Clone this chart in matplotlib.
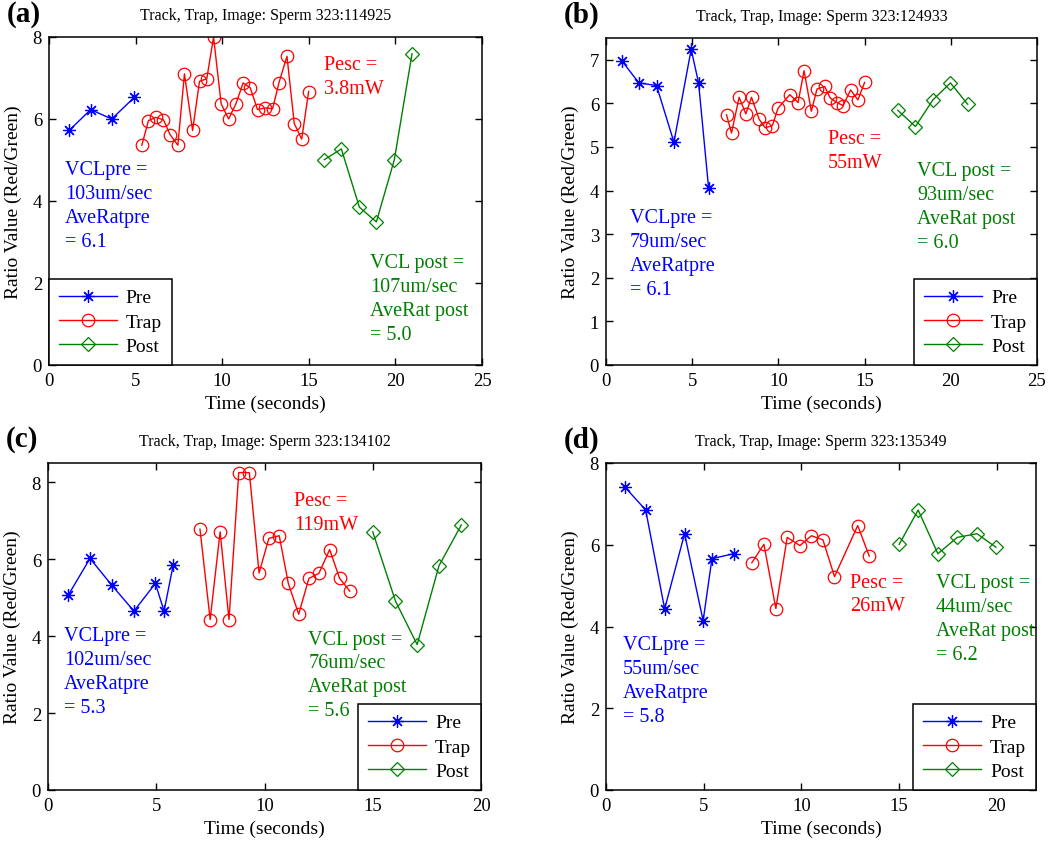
import matplotlib
matplotlib.use("Agg")
import matplotlib.pyplot as plt

plt.rcParams['font.family'] = ['Liberation Serif', 'DejaVu Serif']

BLUE = (0, 0, 1)
RED = (1, 0, 0)
GREEN = (0, 0.5, 0)

##################
# Panel (a) data #
##################
a_pre_t = [1.16, 2.41, 3.62, 4.93]
a_pre_r = [5.72, 6.23, 6.00, 6.53]
a_trap_t = [5.36, 5.74, 6.17, 6.61, 6.99, 7.44, 7.82, 8.29, 8.69, 9.11, 9.50, 9.94,
            10.37, 10.79, 11.21, 11.62, 12.04, 12.49, 12.91, 13.28, 13.74, 14.16, 14.59, 14.99]
a_trap_r = [5.36, 5.96, 6.04, 5.98, 5.62, 5.36, 7.10, 5.72, 6.92, 6.98, 8.00, 6.37,
            6.00, 6.37, 6.88, 6.76, 6.23, 6.27, 6.25, 6.89, 7.53, 5.89, 5.51, 6.67]
a_post_t = [15.90, 16.88, 17.92, 18.90, 19.94, 20.96]
a_post_r = [5.01, 5.27, 3.85, 3.49, 5.01, 7.59]

##################
# Panel (b) data #
##################
b_pre_t = [0.91, 1.91, 2.93, 3.94, 4.94, 5.37, 5.95]
b_pre_r = [6.98, 6.47, 6.41, 5.11, 7.24, 6.47, 4.06]
b_trap_t = [6.99, 7.28, 7.72, 8.11, 8.44, 8.88, 9.23, 9.65, 9.98, 10.66, 11.14,
            11.49, 11.91, 12.24, 12.68, 13.01, 13.40, 13.75, 14.19, 14.61, 15.00]
b_trap_r = [5.74, 5.32, 6.14, 5.76, 6.14, 5.64, 5.44, 5.49, 5.89, 6.20, 6.02,
            6.75, 5.82, 6.33, 6.39, 6.12, 6.02, 5.95, 6.31, 6.08, 6.48]
b_post_t = [16.93, 17.95, 18.96, 19.98, 20.98]
b_post_r = [5.84, 5.47, 6.08, 6.47, 5.98]

##################
# Panel (c) data #
##################
c_pre_t = [0.93, 1.94, 2.95, 3.97, 4.96, 5.36, 5.78]
c_pre_r = [5.06, 6.02, 5.32, 4.65, 5.37, 4.65, 5.84]
c_trap_t = [7.02, 7.49, 7.95, 8.36, 8.81, 9.30, 9.75, 10.20, 10.68, 11.10,
            11.58, 12.05, 12.51, 13.01, 13.47, 13.94]
c_trap_r = [6.78, 4.43, 6.71, 4.43, 8.25, 8.25, 5.64, 6.54, 6.61, 5.37,
            4.57, 5.50, 5.63, 6.25, 5.50, 5.17]
c_post_t = [15.00, 16.05, 17.05, 18.06, 19.09]
c_post_r = [6.71, 4.91, 3.78, 5.83, 6.89]

##################
# Panel (d) data #
##################
d_pre_t = [0.97, 2.03, 3.00, 4.02, 4.97, 5.42, 6.53]
d_pre_r = [7.41, 6.85, 4.43, 6.27, 4.14, 5.66, 5.78]
d_trap_t = [7.46, 8.08, 8.69, 9.27, 9.92, 10.51, 11.10, 11.69, 12.88, 13.47]
d_trap_r = [5.56, 6.01, 4.44, 6.18, 5.98, 6.22, 6.12, 5.22, 6.47, 5.72]
d_post_t = [15.00, 15.97, 16.98, 17.97, 18.98, 19.95]
d_post_r = [6.01, 6.85, 5.78, 6.18, 6.27, 5.94]

titles = ['Track, Trap, Image: Sperm 323:114925', 'Track, Trap, Image: Sperm 323:124933',
          'Track, Trap, Image: Sperm 323:134102', 'Track, Trap, Image: Sperm 323:135349']
letters = ['(a)', '(b)', '(c)', '(d)']
pre_notes = ['VCLpre =\n103um/sec\nAveRatpre\n= 6.1', 'VCLpre =\n79um/sec\nAveRatpre\n= 6.1',
             'VCLpre =\n102um/sec\nAveRatpre\n= 5.3', 'VCLpre =\n55um/sec\nAveRatpre\n= 5.8']
pesc_notes = ['Pesc =\n3.8mW', 'Pesc =\n55mW', 'Pesc =\n119mW', 'Pesc =\n26mW']
post_notes = ['VCL post =\n107um/sec\nAveRat post\n= 5.0', 'VCL post =\n93um/sec\nAveRat post\n= 6.0',
              'VCL post =\n76um/sec\nAveRat post\n= 5.6', 'VCL post =\n44um/sec\nAveRat post\n= 6.2']

# note anchor points (data coords, top-left of text)
pre_xy = [(0.92, 5.0), (1.39, 3.6), (0.74, 4.26), (0.85, 3.79)]
pesc_xy = [(15.9, 7.57), (12.88, 5.41), (11.36, 7.76), (12.49, 5.32)]
post_xy = [(18.55, 2.73), (18.05, 4.67), (12.03, 4.17), (16.86, 5.30)]

xlims = [25, 25, 20, 22]
ylims = [8, 7.5, 8.5, 8]
yticks = [[0, 2, 4, 6, 8], [0, 1, 2, 3, 4, 5, 6, 7], [0, 2, 4, 6, 8], [0, 2, 4, 6, 8]]
leg_loc = ['lower left', 'lower right', 'lower right', 'lower right']

data = [
    (a_pre_t, a_pre_r, a_trap_t, a_trap_r, a_post_t, a_post_r),
    (b_pre_t, b_pre_r, b_trap_t, b_trap_r, b_post_t, b_post_r),
    (c_pre_t, c_pre_r, c_trap_t, c_trap_r, c_post_t, c_post_r),
    (d_pre_t, d_pre_r, d_trap_t, d_trap_r, d_post_t, d_post_r),
]

# axes boxes in pixels: left, top, right, bottom
boxes = [(49, 38, 482, 366), (606, 39, 1037, 366), (48, 464, 481, 791), (606, 464, 1036, 791)]
W, H = 1050, 845

fig = plt.figure(figsize=(10.5, 8.45), dpi=100)

for i in range(4):
    l, t, r, b = boxes[i]
    ax = fig.add_axes([l / W, (H - b) / H, (r - l) / W, (b - t) / H])
    pt, pr, tt, tr, qt, qr = data[i]
    ax.plot(pt, pr, color=BLUE, lw=1, marker=(8, 2, 0), ms=9, mew=0.9, label='Pre')
    ax.plot(tt, tr, color=RED, lw=1, marker='o', ms=9, mfc='none', mew=0.9, label='Trap')
    ax.plot(qt, qr, color=GREEN, lw=1, marker='D', ms=7.5, mfc='none', mew=0.9, label='Post')

    ax.set_xlim(0, xlims[i])
    ax.set_ylim(0, ylims[i])
    ax.set_xticks(range(0, xlims[i] + 1, 5))
    ax.set_yticks(yticks[i])
    ax.tick_params(direction='in', top=True, right=True, length=5, width=1, labelsize=13.5, pad=5)
    for s in ax.spines.values():
        s.set_linewidth(1.1)

    ax.set_xlabel('Time (seconds)', fontsize=14, labelpad=4)
    ax.set_ylabel('Ratio Value (Red/Green)', fontsize=14, labelpad=8)
    ax.set_title(titles[i], fontsize=11.5, pad=13)

    fs = 14.5
    ax.text(*pre_xy[i], pre_notes[i], color=BLUE, fontsize=fs, va='top', ha='left', linespacing=1.35)
    ax.text(*pesc_xy[i], pesc_notes[i], color=RED, fontsize=fs, va='top', ha='left', linespacing=1.35)
    ax.text(*post_xy[i], post_notes[i], color=GREEN, fontsize=fs, va='top', ha='left', linespacing=1.35)

    anchor = (0, 0) if leg_loc[i] == 'lower left' else (1, 0)
    leg = ax.legend(loc=leg_loc[i], bbox_to_anchor=anchor, borderaxespad=0, fancybox=False,
                    edgecolor='black', framealpha=1, fontsize=14, handlelength=3.0,
                    labelspacing=0.35, borderpad=0.5, handletextpad=0.45)
    leg.get_frame().set_linewidth(1.1)

    fig.text((l - 42) / W, 1 - 15 / H if i < 2 else 1 - 440 / H, letters[i],
             fontsize=21, fontweight='bold', va='center', ha='left')

fig.savefig('out.png', dpi=100)
